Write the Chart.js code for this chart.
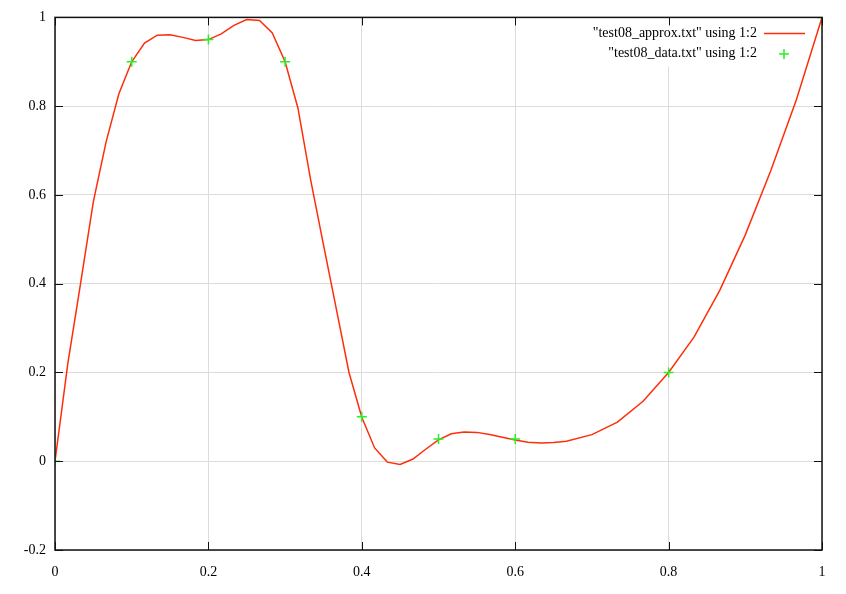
<!DOCTYPE html>
<html>
<head>
<meta charset="utf-8">
<script src="https://cdn.jsdelivr.net/npm/chart.js@4"></script>
<style>
  body { margin: 0; background: #fff; }
  #wrap { width: 846px; height: 594px; }
</style>
</head>
<body>
<div id="wrap"><canvas id="plot" width="846" height="594"></canvas></div>
<script>
// Data
const approxX = [
  0, 0.0167, 0.0333, 0.05, 0.0667, 0.0833, 0.1, 0.1167, 0.1333, 0.15,
  0.1667, 0.1833, 0.2, 0.2167, 0.2333, 0.25, 0.2667, 0.2833, 0.3, 0.3167,
  0.3333, 0.35, 0.3667, 0.3833, 0.4, 0.4167, 0.4333, 0.45, 0.4667, 0.4833,
  0.5, 0.5167, 0.5333, 0.55, 0.5667, 0.5833, 0.6, 0.6167, 0.6333, 0.65,
  0.6667, 0.7, 0.7333, 0.7667, 0.8, 0.8333, 0.8667, 0.9, 0.9333, 0.9667, 1
];
const approxY = [
  0, 0.22, 0.40, 0.585, 0.72, 0.828, 0.90, 0.942, 0.96, 0.961,
  0.955, 0.948, 0.95, 0.963, 0.982, 0.995, 0.993, 0.965, 0.90, 0.796,
  0.634, 0.488, 0.344, 0.20, 0.099, 0.03, -0.002, -0.0075, 0.005, 0.027,
  0.048, 0.062, 0.066, 0.065, 0.06, 0.054, 0.048, 0.043, 0.041, 0.042,
  0.045, 0.06, 0.088, 0.135, 0.2, 0.28, 0.385, 0.51, 0.655, 0.815, 1.0
];
const dataX = [0, 0.1, 0.2, 0.3, 0.4, 0.5, 0.6, 0.8, 1];
const dataY = [0, 0.9, 0.95, 0.9, 0.1, 0.05, 0.05, 0.2, 1];
const legendLabels = ['"test08_approx.txt" using 1:2', '"test08_data.txt" using 1:2'];

const lineColor = 'rgb(255,45,10)';
const pointColor = 'rgb(40,240,40)';
const fontFamily = '"Liberation Serif", "DejaVu Serif", serif';

// Legend box (covers grid) + ticks + frame, drawn the gnuplot way
const gnuplotLook = {
  id: 'gnuplotLook',
  beforeDatasetsDraw(chart) {
    const { ctx, chartArea } = chart;
    ctx.save();
    ctx.fillStyle = '#fff';
    ctx.fillRect(585, chartArea.top + 1, chartArea.right - 586, 48);
    ctx.restore();
  },
  afterDraw(chart) {
    const { ctx, chartArea: a, scales } = chart;
    ctx.save();
    ctx.strokeStyle = '#111';
    ctx.lineWidth = 1;
    ctx.beginPath();
    scales.x.ticks.forEach(t => {
      const px = Math.round(scales.x.getPixelForValue(t.value)) + 0.5;
      ctx.moveTo(px, a.bottom); ctx.lineTo(px, a.bottom - 8);
      ctx.moveTo(px, a.top); ctx.lineTo(px, a.top + 8);
    });
    scales.y.ticks.forEach(t => {
      const py = Math.round(scales.y.getPixelForValue(t.value)) + 0.5;
      ctx.moveTo(a.left, py); ctx.lineTo(a.left + 8, py);
      ctx.moveTo(a.right, py); ctx.lineTo(a.right - 8, py);
    });
    ctx.stroke();
    ctx.lineWidth = 1.5;
    ctx.strokeRect(a.left, a.top, a.right - a.left, a.bottom - a.top);

    // legend
    ctx.fillStyle = '#000';
    ctx.font = '14px ' + fontFamily;
    ctx.textAlign = 'right';
    ctx.textBaseline = 'middle';
    ctx.fillText(legendLabels[0], 757, 33);
    ctx.fillText(legendLabels[1], 757, 53);
    ctx.strokeStyle = lineColor;
    ctx.lineWidth = 1.5;
    ctx.beginPath();
    ctx.moveTo(764, 33.5); ctx.lineTo(805, 33.5);
    ctx.stroke();
    ctx.strokeStyle = pointColor;
    ctx.beginPath();
    ctx.moveTo(779, 54); ctx.lineTo(789, 54);
    ctx.moveTo(784, 49); ctx.lineTo(784, 59);
    ctx.stroke();
    ctx.restore();
  }
};

new Chart(document.getElementById('plot'), {
  type: 'scatter',
  data: {
    datasets: [
      {
        label: legendLabels[1],
        data: dataX.map((x, i) => ({ x: x, y: dataY[i] })),
        showLine: false,
        pointStyle: 'cross',
        pointRadius: 5,
        borderColor: pointColor,
        backgroundColor: pointColor,
        borderWidth: 1.5,
        order: 0
      },
      {
        label: legendLabels[0],
        data: approxX.map((x, i) => ({ x: x, y: approxY[i] })),
        showLine: true,
        borderColor: lineColor,
        borderWidth: 1.5,
        pointRadius: 0,
        tension: 0,
        order: 1
      }
    ]
  },
  options: {
    responsive: false,
    animation: false,
    layout: { padding: { top: 16, right: 24, left: 0, bottom: 0 } },
    plugins: {
      legend: { display: false },
      tooltip: { enabled: false }
    },
    scales: {
      x: {
        type: 'linear',
        min: 0,
        max: 1,
        afterFit(scale) { scale.height = 44; },
        ticks: {
          stepSize: 0.2,
          padding: 14,
          color: '#000',
          font: { family: fontFamily, size: 14 },
          callback: v => String(Math.round(v * 10) / 10)
        },
        grid: { color: '#dcdcdc', lineWidth: 1, drawTicks: false },
        border: { display: false }
      },
      y: {
        type: 'linear',
        min: -0.2,
        max: 1,
        afterFit(scale) { scale.width = 55; },
        ticks: {
          stepSize: 0.2,
          padding: 9,
          color: '#000',
          font: { family: fontFamily, size: 14 },
          callback: v => String(Math.round(v * 10) / 10)
        },
        grid: { color: '#dcdcdc', lineWidth: 1, drawTicks: false },
        border: { display: false }
      }
    }
  },
  plugins: [gnuplotLook]
});
</script>
</body>
</html>
